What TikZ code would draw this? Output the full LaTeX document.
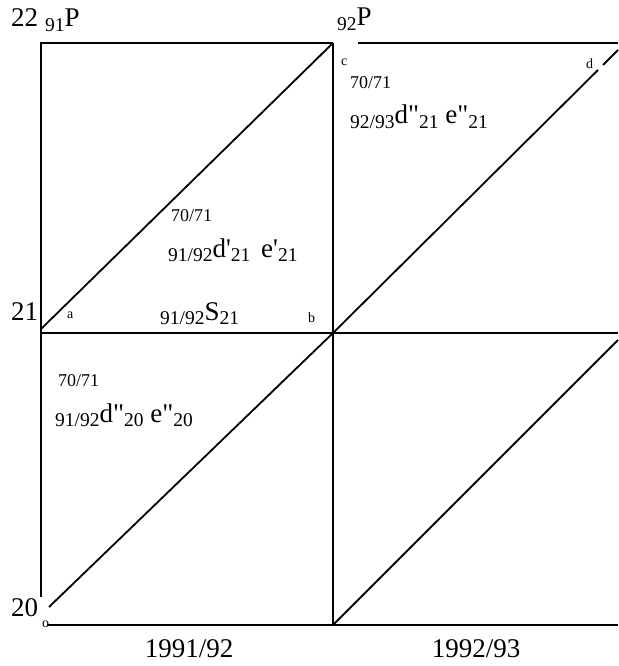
\documentclass[tikz,border=0pt]{standalone}
\usepackage{fontspec}
\setmainfont{Liberation Serif}
\newcommand\lo[1]{\raisebox{-4.5pt}{\fontsize{19.5}{20}\selectfont #1}}
\newcommand\dq{\textquotedbl}
\newcommand\sq{\textquotesingle}
\begin{document}
\begin{tikzpicture}[x=1pt,y=-1pt,
  grid/.style={line width=2.5pt},
  diag/.style={line width=1.8pt},
  big/.style={inner sep=0pt,anchor=base west,font=\fontsize{27}{28}\selectfont},
  mid/.style={inner sep=0pt,anchor=base west,font=\fontsize{18}{20}\selectfont},
  tiny/.style={inner sep=0pt,anchor=base west,font=\fontsize{14}{15}\selectfont}]
\useasboundingbox (0,0) rectangle (618,666);
% grid points
\coordinate (TL) at (41,43);
\coordinate (TM) at (333,43);
\coordinate (TG) at (358,43);
\coordinate (TR) at (618,43);
\coordinate (ML) at (41,333);
\coordinate (MM) at (333,333);
\coordinate (MR) at (618,333);
\coordinate (LB) at (41,597);
\coordinate (BS) at (47,625);
\coordinate (BM) at (333,625);
\coordinate (BR) at (618,625);
% diagonal ends
\coordinate (A1) at (41,329);
\coordinate (A2) at (49,607);
\coordinate (D1) at (598,70);
\coordinate (D2) at (603,65);
\coordinate (D3) at (618,50);
\coordinate (E1) at (618,340);
% grid
\draw[grid] (LB) -- (TL) -- (TM);
\draw[grid] (TG) -- (TR);
\draw[grid] (ML) -- (MR);
\draw[grid] (BS) -- (BR);
\draw[grid] (TM) -- (BM);
% diagonals
\draw[diag] (A1) -- (TM);
\draw[diag] (A2) -- (MM);
\draw[diag] (MM) -- (D1);
\draw[diag] (D2) -- (D3);
\draw[diag] (BM) -- (E1);
% labels
\node[big] (l22) at (11,27) {22};
\node[big] (p91) at (45,27) {\lo{91}P};
\node[big] (p92) at (337,26) {\lo{92}P};
\node[tiny] (lc) at (341,66) {c};
\node[tiny] (ld) at (586,69) {d};
\node[mid] (r70) at (350,89) {70/71};
\node[big] (rde) at (350,124) {\lo{92/93}d\dq\lo{21} e\dq\lo{21}};
\node[mid] (u70) at (171,221) {70/71};
\node[big] (ude) at (168,257) {\lo{91/92}d\sq\lo{21}\hspace{4pt} e\sq\lo{21}};
\node[big] (l21) at (11,320) {21};
\node[tiny] (la) at (67,318) {a};
\node[big] (s21) at (160,320) {\lo{91/92}S\lo{21}};
\node[tiny] (lb) at (308,322) {b};
\node[mid] (w70) at (58,386) {70/71};
\node[big] (wde) at (55,422) {\lo{91/92}d\dq\lo{20} e\dq\lo{20}};
\node[big] (l20) at (11,616) {20};
\node[tiny] (lo) at (42,627) {o};
\node[big,anchor=base] (y1) at (189,657) {1991/92};
\node[big,anchor=base] (y2) at (476,657) {1992/93};
\end{tikzpicture}
\end{document}
